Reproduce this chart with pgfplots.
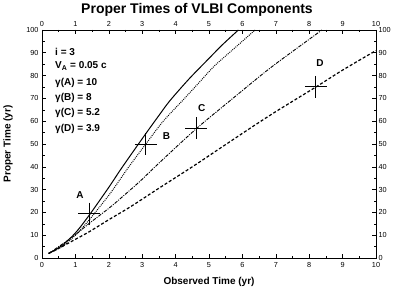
\documentclass[border=0pt]{standalone}
\usepackage{fontspec}
\setmainfont{Liberation Sans}
\usepackage{pgfplots}
\pgfplotsset{compat=1.18}
\begin{document}
\begin{tikzpicture}
\pgfplotsset{
 common/.style={
  scale only axis, width=334pt, height=228pt,
  at={(0,0)}, anchor=south west,
  xmin=0,xmax=10,ymin=0,ymax=100,
  xtick={0,1,...,10}, ytick={0,10,...,100},
  minor x tick num=1, minor y tick num=1,
  tick align=inside,
  major tick length=4pt, minor tick length=2.5pt,
  tick style={black, line width=0.6pt},
  axis line style={line width=0.8pt},
  tick label style={font=\fontsize{7.3}{8}\selectfont},
  /pgf/number format/assume math mode=true,
  clip=false,
 }}
\path[use as bounding box] (-42pt,-34pt) rectangle (353pt,258pt);
\begin{axis}[common,
  xlabel={Observed Time (yr)},
  ylabel={Proper Time (yr)},
  xlabel style={font=\fontsize{10}{12}\selectfont\bfseries, at={([yshift=-24pt]axis description cs:0.5,0)}, anchor=center},
  ylabel style={font=\fontsize{10}{12}\selectfont\bfseries, at={([xshift=-34pt]axis description cs:0,0.5)}, anchor=center},
  xticklabel style={yshift=-1pt},
]
% A: solid
\addplot[black, line width=1pt, smooth] coordinates {
(0.2,2) (0.6,5.5) (1.0,11) (1.4,18.5) (2.0,31) (2.34,38.5) (2.72,46.5) (3.13,55) (3.5,62.5) (3.83,69) (4.4,78.5) (4.93,86.5) (5.4,93.5) (5.88,100)};
% B: dotted
\addplot[black, line width=1pt, smooth, dash pattern=on 0.9pt off 1.1pt] coordinates {
(0.2,2) (0.6,5) (1.0,10) (1.4,16.5) (2.0,27.5) (2.34,34.5) (2.6,40) (3.11,50) (3.63,60) (4.28,70.2) (4.8,78.5) (5.18,84.5) (5.8,92.5) (6.38,100)};
% C: dash-dot
\addplot[black, line width=0.9pt, smooth, dash pattern=on 3.5pt off 1.2pt on 1pt off 1.2pt] coordinates {
(0.2,2) (0.6,6) (1.0,10.2) (1.4,15) (2.0,21.8) (2.34,26) (2.93,33.6) (3.53,42) (4.62,56.7) (5.73,70.2) (6.83,83.3) (7.97,95.6) (8.38,100)};
% D: dashed
\addplot[black, line width=1.2pt, smooth, dash pattern=on 3pt off 2pt] coordinates {
(0.2,2) (0.6,5) (1.0,8.2) (1.4,11.4) (2.0,16.8) (2.63,22.3) (3.5,30.6) (4.5,40) (5.33,48.1) (6.23,56.9) (7,64.2) (8.2,75) (9,82.4) (10,91)};
% markers
\addplot[only marks, mark=+, mark size=11pt, mark options={line width=1pt, black}] coordinates {
(1.42,19.5) (3.11,50) (4.62,56.8) (8.2,75)};
\begin{scope}[font=\fontsize{10}{12}\selectfont\bfseries]
\node at (axis cs:1.14,27.6) {A};
\node at (axis cs:3.73,53.5) {B};
\node at (axis cs:4.78,65.9) {C};
\node at (axis cs:8.32,85.4) {D};
\node[anchor=west, inner sep=0pt] at (axis cs:0.39,90.5) {i = 3};
\node[anchor=west, inner sep=0pt] at (axis cs:0.39,84.2) {V\textsubscript{A} = 0.05 c};
\node[anchor=west, inner sep=0pt] at (axis cs:0.39,76.6) {γ(A) = 10};
\node[anchor=west, inner sep=0pt] at (axis cs:0.39,70) {γ(B) = 8};
\node[anchor=west, inner sep=0pt] at (axis cs:0.39,63.5) {γ(C) = 5.2};
\node[anchor=west, inner sep=0pt] at (axis cs:0.39,56.6) {γ(D) = 3.9};
\end{scope}
\node[font=\fontsize{14}{16}\selectfont\bfseries, anchor=base] at ([xshift=-12pt, yshift=16pt]rel axis cs:0.5,1) {Proper Times of VLBI Components};
\end{axis}
\begin{axis}[common,
  xticklabel pos=upper, yticklabel pos=right,
  yticklabel style={xshift=-1pt},
]
\end{axis}
\end{tikzpicture}
\end{document}
